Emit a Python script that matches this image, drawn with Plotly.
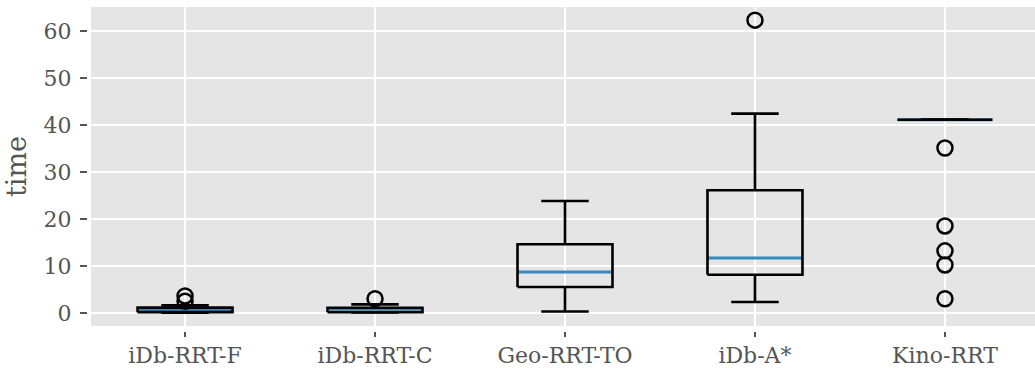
import plotly.graph_objects as go

categories = ["iDb-RRT-F", "iDb-RRT-C", "Geo-RRT-TO", "iDb-A*", "Kino-RRT"]
q1 = [0.15, 0.15, 5.5, 8.1, 41.1]
median = [0.57, 0.8, 8.7, 11.7, 41.1]
q3 = [1.12, 1.1, 14.6, 26.1, 41.1]
whislo = [0.05, 0.1, 0.3, 2.3, 41.1]
whishi = [1.6, 1.8, 23.8, 42.4, 41.1]
fliers = [[3.6, 2.5], [3.0], [], [62.3], [35.1, 18.5, 13.2, 10.2, 3.0]]
y_ticks = [0, 10, 20, 30, 40, 50, 60]

positions = list(range(1, len(categories) + 1))
box_half = 0.25
cap_half = 0.125

fig = go.Figure()

# medians
mx, my = [], []
for p, m in zip(positions, median):
    mx += [p - box_half, p + box_half, None]
    my += [m, m, None]
fig.add_trace(go.Scatter(x=mx, y=my, mode="lines",
                         line=dict(color="#348ABD", width=3), hoverinfo="skip"))

# whiskers, caps, boxes
lx, ly = [], []
for p, a, b, c, lo, hi in zip(positions, q1, median, q3, whislo, whishi):
    lx += [p, p, None, p, p, None]
    ly += [a, lo, None, c, hi, None]
    lx += [p - cap_half, p + cap_half, None, p - cap_half, p + cap_half, None]
    ly += [lo, lo, None, hi, hi, None]
    lx += [p - box_half, p + box_half, p + box_half, p - box_half, p - box_half, None]
    ly += [a, a, c, c, a, None]
fig.add_trace(go.Scatter(x=lx, y=ly, mode="lines",
                         line=dict(color="black", width=2.6), hoverinfo="skip"))

# fliers
fx, fy = [], []
for p, fl in zip(positions, fliers):
    for v in fl:
        fx.append(p)
        fy.append(v)
fig.add_trace(go.Scatter(x=fx, y=fy, mode="markers",
                         marker=dict(symbol="circle-open", size=15, color="black",
                                     line=dict(width=2.5, color="black"))))

font_family = "DejaVu Serif"
fig.update_layout(
    width=1035, height=368,
    margin=dict(l=87, r=0, t=7, b=35),
    plot_bgcolor="#E5E5E5", paper_bgcolor="white",
    showlegend=False,
    font=dict(family=font_family, color="#555555", size=22),
    xaxis=dict(
        domain=[4 / 948, 1], anchor="free", position=0,
        range=[0.505, 5.474],
        tickmode="array", tickvals=positions, ticktext=categories,
        showgrid=True, gridcolor="white", gridwidth=2,
        zeroline=False, showline=False,
        ticks="outside", ticklen=5, tickwidth=1.5, tickcolor="#555555",
        tickfont=dict(size=22, family=font_family, color="#555555"),
    ),
    yaxis=dict(
        domain=[5 / 326, 1], anchor="free", position=0,
        range=[-2.8, 65.1],
        tickmode="array", tickvals=y_ticks,
        showgrid=True, gridcolor="white", gridwidth=2,
        zeroline=False, showline=False,
        ticks="outside", ticklen=7, tickwidth=1.5, tickcolor="#555555",
        tickfont=dict(size=22, family=font_family, color="#555555"),
        ticklabelstandoff=4,
        title=dict(text="time", font=dict(size=27, family=font_family, color="#555555"),
                   standoff=8),
    ),
)

fig.write_html("out.html")
